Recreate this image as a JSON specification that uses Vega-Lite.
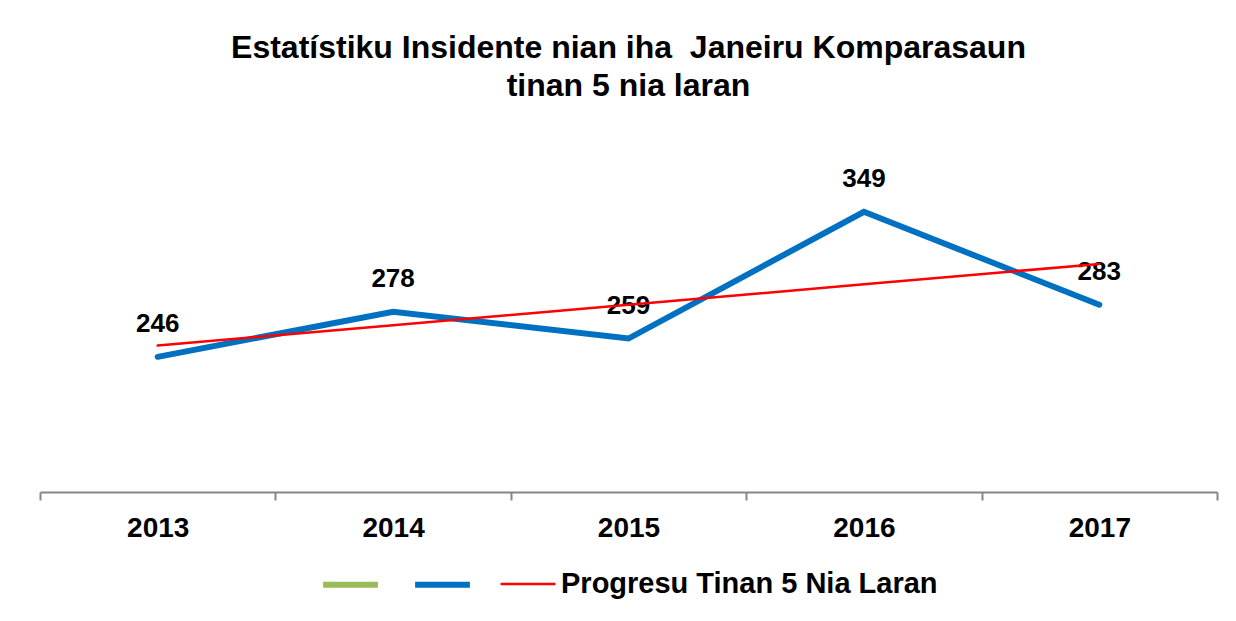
{
  "$schema": "https://vega.github.io/schema/vega-lite/v6.json",
  "width": 1177,
  "height": 352,
  "autosize": "none",
  "padding": {"left": 40, "top": 140, "right": 19, "bottom": 129},
  "background": "white",
  "title": {
    "text": ["Estatístiku Insidente nian iha \u00a0Janeiru Komparasaun", "tinan 5 nia laran"],
    "font": "Liberation Sans",
    "fontSize": 32,
    "fontWeight": "bold",
    "color": "black",
    "anchor": "middle",
    "lineHeight": 38,
    "offset": 37
  },
  "data": {
    "values": [
      {"year": "2013", "series": "Insidente", "value": 246},
      {"year": "2014", "series": "Insidente", "value": 278},
      {"year": "2015", "series": "Insidente", "value": 259},
      {"year": "2016", "series": "Insidente", "value": 349},
      {"year": "2017", "series": "Insidente", "value": 283},
      {"year": "2013", "series": "Progresu Tinan 5 Nia Laran", "value": 254},
      {"year": "2014", "series": "Progresu Tinan 5 Nia Laran", "value": 268.5},
      {"year": "2015", "series": "Progresu Tinan 5 Nia Laran", "value": 283},
      {"year": "2016", "series": "Progresu Tinan 5 Nia Laran", "value": 297.5},
      {"year": "2017", "series": "Progresu Tinan 5 Nia Laran", "value": 312}
    ]
  },
  "encoding": {
    "x": {
      "field": "year",
      "type": "ordinal",
      "scale": {"paddingInner": 0, "paddingOuter": 0},
      "axis": {
        "title": null,
        "labelAngle": 0,
        "labelFont": "Liberation Sans",
        "labelFontSize": 28,
        "labelFontWeight": "bold",
        "labelColor": "black",
        "labelPadding": 14,
        "domainColor": "#868686",
        "domainWidth": 2,
        "tickColor": "#868686",
        "tickWidth": 2,
        "tickSize": 8,
        "tickBand": "extent",
        "grid": false
      }
    },
    "y": {
      "field": "value",
      "type": "quantitative",
      "scale": {"domain": [150, 400], "nice": false, "zero": false},
      "axis": null
    }
  },
  "layer": [
    {
      "transform": [{"filter": "datum.series == 'Insidente'"}],
      "mark": {
        "type": "text",
        "font": "Liberation Sans",
        "fontSize": 26,
        "fontWeight": "bold",
        "color": "black",
        "baseline": "middle",
        "dy": -33
      },
      "encoding": {"text": {"field": "value", "type": "quantitative"}}
    },
    {
      "mark": {"type": "line", "strokeCap": "round", "strokeJoin": "miter"},
      "encoding": {
        "color": {
          "field": "series",
          "type": "nominal",
          "scale": {
            "domain": ["Seri1", "Insidente", "Progresu Tinan 5 Nia Laran"],
            "range": ["#9BBB59", "#0070C0", "#FF0000"]
          },
          "legend": {
            "title": null,
            "orient": "none",
            "legendX": 280,
            "legendY": 414,
            "direction": "horizontal",
            "symbolType": "stroke",
            "symbolSize": 3000,
            "labelFont": "Liberation Sans",
            "labelFontSize": 29,
            "labelFontWeight": "bold",
            "labelColor": "black",
            "labelLimit": 600,
            "labelOffset": 4,
            "columnPadding": 13,
            "labelExpr": "datum.label == 'Progresu Tinan 5 Nia Laran' ? datum.label : ''"
          }
        },
        "strokeWidth": {
          "field": "series",
          "type": "nominal",
          "scale": {
            "type": "ordinal",
            "domain": ["Seri1", "Insidente", "Progresu Tinan 5 Nia Laran"],
            "range": [6, 6, 2.5]
          },
          "legend": {
            "title": null,
            "orient": "none",
            "legendX": 280,
            "legendY": 414,
            "direction": "horizontal",
            "symbolType": "stroke",
            "symbolSize": 3000,
            "labelFont": "Liberation Sans",
            "labelFontSize": 29,
            "labelFontWeight": "bold",
            "labelColor": "black",
            "labelLimit": 600,
            "labelOffset": 4,
            "columnPadding": 13,
            "labelExpr": "datum.label == 'Progresu Tinan 5 Nia Laran' ? datum.label : ''"
          }
        }
      }
    }
  ],
  "config": {
    "view": {"stroke": null}
  }
}
